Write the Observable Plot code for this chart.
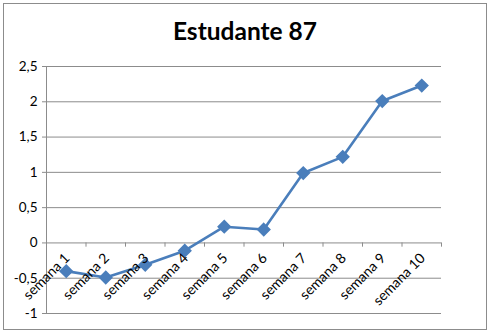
<!DOCTYPE html>
<html>
<head>
<meta charset="utf-8">
<script src="https://cdn.jsdelivr.net/npm/d3@7"></script>
<script src="https://cdn.jsdelivr.net/npm/@observablehq/plot@0.6"></script>
<style>
  html, body { margin: 0; padding: 0; background: #fff; }
  #frame { position: relative; width: 490px; height: 333px; box-sizing: border-box; overflow: hidden; }
  #border { position: absolute; left: 3px; top: 3px; width: 484px; height: 327px; box-sizing: border-box; border: 1.5px solid #8c8c8c; pointer-events: none; }
  #title { position: absolute; left: 0; top: 16px; width: 490px; text-align: center; font-family: Lato, "Open Sans", sans-serif; font-weight: bold; font-size: 24.5px; color: #000; }
  #chart { position: absolute; left: 0; top: 50px; }
</style>
</head>
<body>
<div id="frame">
  <div id="title">Estudante 87</div>
  <div id="chart"></div>
  <div id="border"></div>
</div>
<script>
const categories = ["semana 1","semana 2","semana 3","semana 4","semana 5","semana 6","semana 7","semana 8","semana 9","semana 10"];
const values = [-0.40, -0.49, -0.31, -0.11, 0.23, 0.19, 0.99, 1.22, 2.01, 2.23];
const yTicks = [-1, -0.5, 0, 0.5, 1, 1.5, 2, 2.5];

const data = categories.map((c, i) => ({cat: c, idx: i + 1, v: values[i]}));
const boundaries = d3.range(0, categories.length + 1).map(i => i + 0.5);
const fmt = d => String(d).replace(".", ",");
const blue = "#4a7ebb";

const chart = Plot.plot({
  width: 490,
  height: 283,
  marginTop: 16,
  marginBottom: 20,
  marginLeft: 46,
  marginRight: 49,
  style: {fontFamily: "Lato, 'Open Sans', sans-serif", background: "transparent"},
  x: {domain: [0.5, 10.5], axis: null},
  y: {domain: [-1, 2.5], ticks: yTicks, tickFormat: fmt, tickSize: 4, tickPadding: 5, label: null},
  marks: [
    Plot.gridY(yTicks, {stroke: "#8c8c8c", strokeOpacity: 1, strokeWidth: 1}),
    Plot.axisY(yTicks, {tickFormat: fmt, tickSize: 4, tickPadding: 5, stroke: "#8c8c8c", fontSize: 13.5, fill: "#000", label: null}),
    Plot.ruleX([0.5], {stroke: "#8c8c8c"}),
    Plot.ruleX(boundaries, {x: d => d, y1: 0, y2: -0.06, stroke: "#8c8c8c"}),
    Plot.line(data, {x: "idx", y: "v", stroke: blue, strokeWidth: 2.6}),
    Plot.dot(data, {x: "idx", y: "v", symbol: "diamond2", r: 5.5, fill: blue, stroke: blue}),
    Plot.text(data, {x: "idx", y: 0, text: "cat", rotate: -45, textAnchor: "end", dx: 1, dy: 13, fontSize: 14, fill: "#000"})
  ]
});
document.getElementById("chart").appendChild(chart);
</script>
</body>
</html>
